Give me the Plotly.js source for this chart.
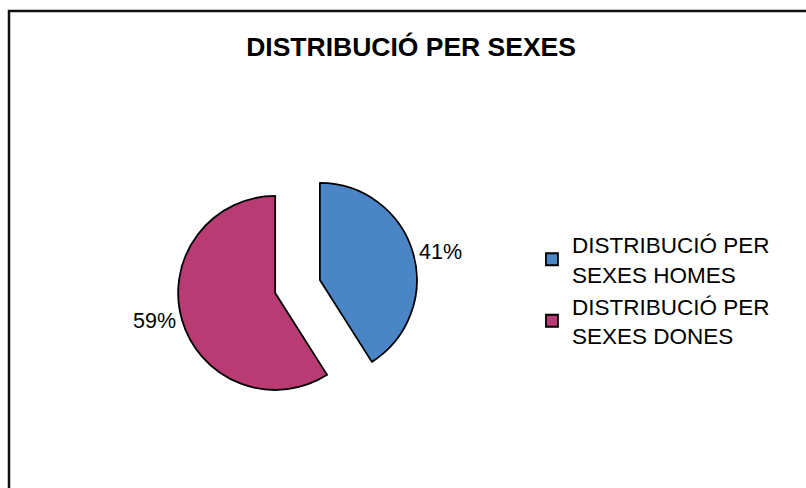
<!DOCTYPE html>
<html>
<head>
<meta charset="utf-8">
<script src="https://cdn.plot.ly/plotly-3.0.1.min.js"></script>
<style>html,body{margin:0;padding:0;background:#fff;}#chart{width:806px;height:488px;}</style>
</head>
<body>
<div id="chart"></div>
<script>
const categories = ["DISTRIBUCIÓ PER<br>SEXES HOMES", "DISTRIBUCIÓ PER<br>SEXES DONES"];
const values = [41, 59];
const sliceColors = ["#4A86C6", "#B83B74"];
const chartTitle = "DISTRIBUCIÓ PER SEXES";

const FONT = "Liberation Sans, Arial, Helvetica, sans-serif";

const data = [{
  type: "pie",
  labels: categories,
  values: values,
  sort: false,
  direction: "clockwise",
  rotation: 0,
  pull: [0.24, 0.24],
  marker: { colors: sliceColors, line: { color: "#000", width: 1.8 } },
  textinfo: "percent",
  textposition: "outside",
  texttemplate: "%{percent:.0%}",
  outsidetextfont: { family: FONT, size: 21.5, color: "#000" },
  domain: { x: [0.2199, 0.5184], y: [0.1665, 0.6595] },
  hoverinfo: "none",
  automargin: false
}];

const layout = {
  width: 806, height: 488,
  margin: { l: 0, r: 0, t: 0, b: 0 },
  paper_bgcolor: "#fff",
  font: { family: FONT, color: "#000" },
  title: {
    text: "<b>" + chartTitle + "</b>",
    font: { family: FONT, size: 26.5, color: "#000" },
    x: 0.51, xanchor: "center",
    y: 0.905, yanchor: "middle",
    xref: "paper", yref: "paper"
  },
  showlegend: true,
  legend: {
    x: 0.66, xanchor: "left",
    y: 0.542, yanchor: "top",
    font: { family: FONT, size: 22.5, color: "#000" },
    bgcolor: "rgba(0,0,0,0)",
    borderwidth: 0,
    traceorder: "normal"
  },
  shapes: [{
    type: "rect", xref: "paper", yref: "paper",
    x0: 9 / 806, x1: 1.05, y0: -0.05, y1: 1 - 11 / 488,
    line: { color: "#111", width: 2.5 },
    fillcolor: "rgba(0,0,0,0)"
  }]
};

Plotly.newPlot("chart", data, layout, { displayModeBar: false, staticPlot: true });
</script>
</body>
</html>
